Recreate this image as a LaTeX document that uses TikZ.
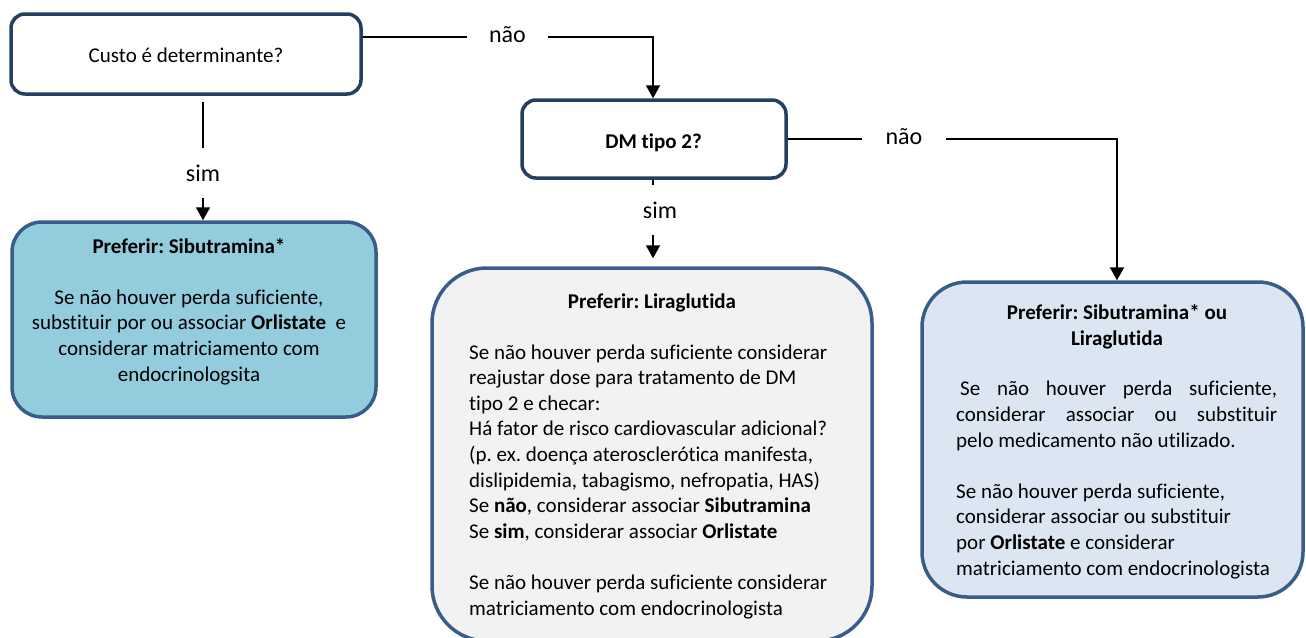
\documentclass[tikz,border=0pt]{standalone}
\usepackage{fontspec}
\setmainfont{Carlito}[Ligatures=NoCommon]
\frenchspacing
\usetikzlibrary{arrows.meta}
\definecolor{qborder}{HTML}{243F60}
\definecolor{rborder}{HTML}{385D8A}
\definecolor{aquafill}{HTML}{93CDDD}
\definecolor{greyfill}{HTML}{F2F2F2}
\definecolor{palefill}{HTML}{DCE6F2}

\begin{document}
\begin{tikzpicture}[x=1pt,y=-1pt,
  question/.style={draw=qborder, line width=3.5pt, fill=white, rounded corners=14pt, inner sep=0pt},
  result/.style={draw=rborder, line width=3.5pt, rounded corners=#1, inner sep=0pt},
  link/.style={line width=2pt, draw=black},
  arrowlink/.style={link, -{Triangle[width=14pt,length=13pt]}},
  body/.style={font=\fontsize{21}{25.6}\selectfont, inner sep=0pt},
  answer/.style={font=\fontsize{24}{28}\selectfont, text height=16pt, text depth=0pt, inner xsep=0pt, inner ysep=17pt},
  sidelabel/.style={font=\fontsize{24}{28}\selectfont, text height=10pt, text depth=0pt, inner ysep=0pt},
]
\useasboundingbox (0,0) rectangle (1306,637);

% question boxes
\node[question, minimum width=350pt, minimum height=80pt] (cost) at (186,54) {};
\node[question, minimum width=264pt, minimum height=78pt] (dm) at (654,139) {};
\node[body, anchor=base] (costtxt) at (186,62) {Custo é determinante?};
\node[body, anchor=base, font=\fontsize{21}{25}\selectfont\bfseries] (dmtxt) at (653.5,148) {DM tipo 2?};

% recommendation boxes
\node[result=30pt, fill=aquafill, minimum width=364pt, minimum height=195pt] (left) at (194,319.5) {};
\node[result=55pt, fill=greyfill, minimum width=440pt, minimum height=373pt] (mid) at (652,454.5) {};
\node[result=45pt, fill=palefill, minimum width=381pt, minimum height=315pt] (right) at (1112.5,439.5) {};

% texts inside the boxes (each block is placed by the baseline of its last line)
\node[body, align=center, anchor=base] (lefttxt) at (189,381)
  {\textbf{Preferir: Sibutramina*}\\[25.6pt]
   Se não houver perda suficiente,\\
   substituir por ou associar \textbf{Orlistate}\ \ e\\
   considerar matriciamento com\\
   endocrinologsita};

\node[body, anchor=base] (midtitle) at (652,308) {\textbf{Preferir: Liraglutida}};
\node[body, align=left, anchor=base west] (midtxt) at (469,615)
  {Se não houver perda suficiente considerar\\
   reajustar dose para tratamento de DM\\
   tipo 2 e checar:\\
   Há fator de risco cardiovascular adicional?\\
   (p. ex. doença aterosclerótica manifesta,\\
   dislipidemia, tabagismo, nefropatia, HAS)\\
   Se \textbf{não}, considerar associar \textbf{Sibutramina}\\
   Se \textbf{sim}, considerar associar \textbf{Orlistate}\\[25.6pt]
   Se não houver perda suficiente considerar\\
   matriciamento com endocrinologista};

\node[body, align=center, anchor=base] (righttitle) at (1117,345)
  {\textbf{Preferir: Sibutramina* ou}\\ \textbf{Liraglutida}};
\node[body, align=left, anchor=base west] (righttxt) at (956,575)
  {\hspace*{4pt}\makebox[317pt][s]{Se não houver perda suficiente,}\\
   \makebox[321pt][s]{considerar associar ou substituir}\\
   pelo medicamento não utilizado.\\[25.6pt]
   Se não houver perda suficiente,\\
   considerar associar ou substituir\\
   por \textbf{Orlistate} e considerar\\
   matriciamento com endocrinologista};

% answer labels
\node[sidelabel, inner xsep=22pt] (no1) at (507.5,37) {não};
\node[sidelabel, inner xsep=23pt] (no2) at (904,139) {não};
\node[answer] (yes1) at (203,173) {sim};
\node[answer] (yes2) at (660,210) {sim};

% connector end points on the DM box
\coordinate (dmtop) at ([xshift=-1pt]dm.north);
\coordinate (dmfoot) at ([xshift=-1pt]dm.south);

% connectors
\draw[link] (cost.east |- no1.west) -- (no1.west);
\draw[arrowlink] (no1.east) -| (dmtop);
\draw[link] (dm.east) -- (no2.west);
\draw[arrowlink] (no2.east) -| ([xshift=4.5pt]right.north);
\draw[link] ([xshift=17pt,yshift=-6pt]cost.south) -- (yes1.north);
\draw[arrowlink] (yes1.south) -- (yes1.south |- left.north);
\draw[link] (dmfoot) -- (dmfoot |- yes2.north);
\draw[arrowlink] (dmfoot |- yes2.south) -- ([yshift=8pt]mid.north -| dmfoot);
\end{tikzpicture}
\end{document}
